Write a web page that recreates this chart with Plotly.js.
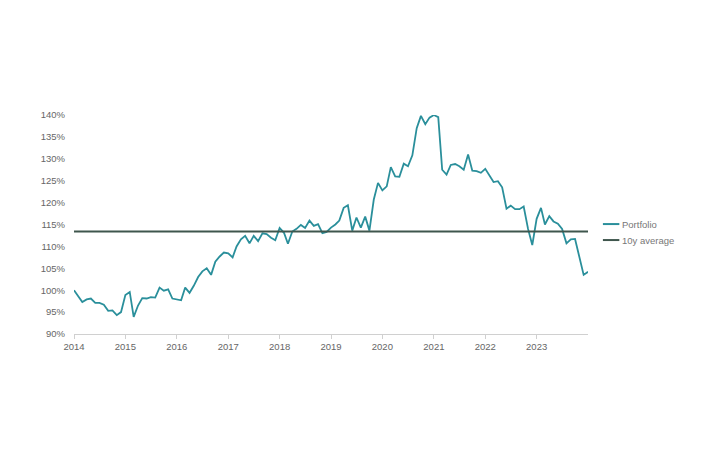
<!DOCTYPE html>
<html>
<head>
<meta charset="utf-8">
<script src="https://cdn.plot.ly/plotly-3.0.1.min.js"></script>
<style>html,body{margin:0;padding:0;background:#fff;}#chart{width:704px;height:462px;}</style>
</head>
<body>
<div id="chart"></div>
<script>
// Monthly portfolio values (%), Jan 2014 .. Jan 2024
const startMonth = '2014-01';
const portfolio = [
  100.0, 98.7, 97.3, 97.9, 98.1, 97.1, 97.1, 96.7, 95.3, 95.4, 94.3, 95.0,
  98.9, 99.6, 93.9, 96.5, 98.2, 98.1, 98.4, 98.3, 100.6, 99.9, 100.2, 98.1,
  97.9, 97.7, 100.6, 99.4, 101.0, 103.0, 104.3, 105.0, 103.5, 106.5, 107.7, 108.6,
  108.4, 107.5, 110.0, 111.6, 112.4, 110.7, 112.4, 111.2, 113.0, 112.8, 112.0, 111.4,
  114.2, 113.1, 110.6, 113.4, 114.0, 114.9, 114.2, 115.9, 114.7, 115.1, 113.0, 113.3,
  114.3, 115.0, 115.9, 118.8, 119.4, 113.6, 116.6, 114.3, 116.8, 113.6, 120.7, 124.5,
  122.8, 123.7, 128.1, 126.0, 125.9, 128.9, 128.3, 130.8, 137.0, 139.8, 137.9, 139.4,
  140.0, 139.5, 127.5, 126.4, 128.6, 128.8, 128.3, 127.5, 131.0, 127.3, 127.2, 126.8,
  127.7, 126.1, 124.7, 124.9, 123.5, 118.6, 119.3, 118.5, 118.5, 119.1, 114.0, 110.3,
  116.3, 118.8, 115.0, 116.9, 115.7, 115.2, 114.0, 110.7, 111.6, 111.7, 107.5, 103.5,
  104.2
];
const avgValue = 113.4;
const avgDates = ['2014-01-01', '2024-01-01'];
const yTickVals = [90, 95, 100, 105, 110, 115, 120, 125, 130, 135, 140];
const yTickText = ['90%', '95%', '100%', '105%', '110%', '115%', '120%', '125%', '130%', '135%', '140%'];
const xTickVals = ['2014-01-01','2015-01-01','2016-01-01','2017-01-01','2018-01-01','2019-01-01','2020-01-01','2021-01-01','2022-01-01','2023-01-01'];
const xTickText = ['2014','2015','2016','2017','2018','2019','2020','2021','2022','2023'];
const seriesNames = ['Portfolio', '10y average'];
const seriesColors = ['#2a8f9b', '#3f564d'];

// build month dates
const dates = portfolio.map((v, i) => {
  const y0 = parseInt(startMonth.slice(0, 4)), m0 = parseInt(startMonth.slice(5)) - 1;
  const t = m0 + i;
  const yy = y0 + Math.floor(t / 12), mm = (t % 12) + 1;
  return yy + '-' + String(mm).padStart(2, '0') + '-01';
});

const traces = [
  {
    x: dates, y: portfolio, type: 'scatter', mode: 'lines', name: seriesNames[0],
    line: {color: seriesColors[0], width: 1.8}
  },
  {
    x: avgDates, y: [avgValue, avgValue], type: 'scatter', mode: 'lines', name: seriesNames[1],
    line: {color: seriesColors[1], width: 2}
  }
];

// compact legend drawn with shapes + annotations (short line samples as in the original)
const legendY = [0.502, 0.429];
const shapes = seriesNames.map((n, k) => ({
  type: 'line', xref: 'paper', yref: 'paper',
  x0: 1.029, x1: 1.061, y0: legendY[k], y1: legendY[k],
  line: {color: seriesColors[k], width: 2}
}));
const annotations = seriesNames.map((n, k) => ({
  xref: 'paper', yref: 'paper', x: 1.062, y: legendY[k],
  xanchor: 'left', yanchor: 'middle', showarrow: false,
  text: n, font: {size: 9.5, color: '#777777'}
}));

const layout = {
  width: 704, height: 462,
  margin: {l: 74, r: 116, t: 115, b: 128, pad: 0},
  paper_bgcolor: '#ffffff', plot_bgcolor: '#ffffff',
  font: {family: 'Liberation Sans, Arial, sans-serif', size: 9.5, color: '#666666'},
  showlegend: false,
  shapes: shapes,
  annotations: annotations,
  xaxis: {
    type: 'date', range: ['2014-01-01', '2024-01-01'],
    tickvals: xTickVals, ticktext: xTickText,
    showgrid: false, zeroline: false,
    showline: true, linecolor: '#d0d0d0', linewidth: 1,
    ticks: 'outside', ticklen: 4, tickcolor: '#d0d0d0',
    tickfont: {size: 9.5, color: '#666666'}
  },
  yaxis: {
    range: [90, 140], tickvals: yTickVals, ticktext: yTickText,
    showgrid: false, zeroline: false, showline: false, ticks: '',
    ticklabelstandoff: 8,
    tickfont: {size: 9.5, color: '#666666'}
  }
};

Plotly.newPlot('chart', traces, layout, {displayModeBar: false, staticPlot: true});
</script>
</body>
</html>
